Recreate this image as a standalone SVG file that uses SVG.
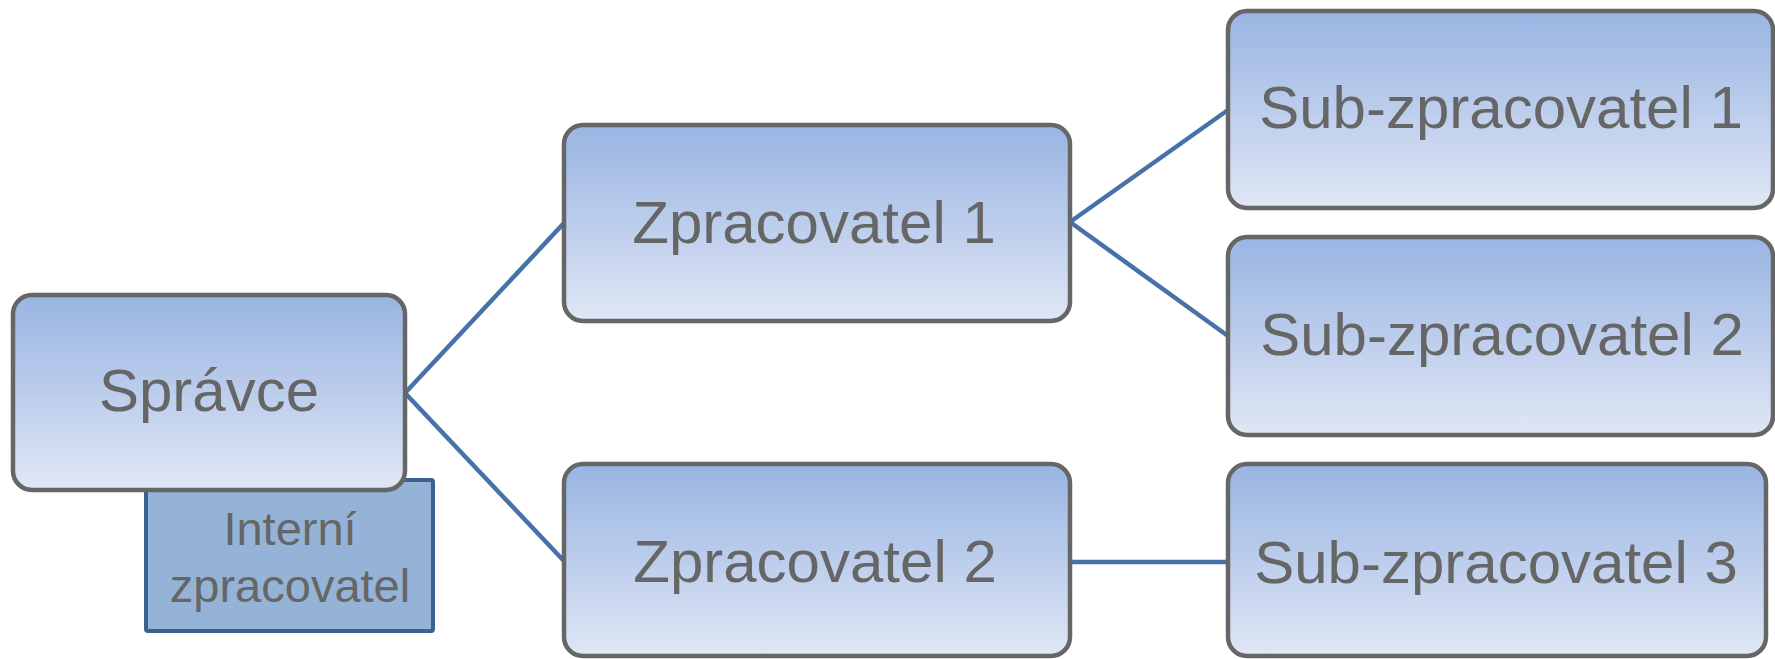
<svg xmlns="http://www.w3.org/2000/svg" width="1775" height="659" viewBox="0 0 1775 659">
  <defs>
    <linearGradient id="boxFill" x1="0" y1="0" x2="0" y2="1">
      <stop offset="0" stop-color="#99b5e2"/>
      <stop offset="0.5" stop-color="#bccdec"/>
      <stop offset="1" stop-color="#e0e7f5"/>
    </linearGradient>
  </defs>
  <style>
    .box { fill: url(#boxFill); stroke: #666666; stroke-width: 4.5; }
    .inner { fill: #95b3d7; stroke: #3b6190; stroke-width: 4; }
    .lbl { font-family: "Liberation Sans", Arial, sans-serif; font-size: 60px; fill: #666666; text-anchor: middle; }
    .lbl-sm { font-family: "Liberation Sans", Arial, sans-serif; font-size: 47px; fill: #666666; text-anchor: middle; }
    .link { stroke: #4672a8; stroke-width: 4.5; fill: none; }
  </style>
  <rect width="1775" height="659" fill="#ffffff"/>

  <!-- connectors -->
  <g id="connectors">
    <line class="link" x1="405" y1="393" x2="564" y2="223"/>
    <line class="link" x1="405" y1="393" x2="564" y2="561"/>
    <line class="link" x1="1070" y1="222" x2="1228" y2="110"/>
    <line class="link" x1="1070" y1="222" x2="1228" y2="336"/>
    <line class="link" x1="1070" y1="562" x2="1228" y2="562"/>
  </g>

  <!-- internal processor tab, tucked under the controller box -->
  <g id="interni">
    <rect class="inner" x="146" y="480" width="287" height="151" rx="2"/>
    <text class="lbl-sm" x="290" y="545">Interní</text>
    <text class="lbl-sm" x="290" y="602">zpracovatel</text>
  </g>

  <g id="spravce">
    <rect class="box" x="13" y="295" width="392" height="195" rx="19"/>
    <text class="lbl" x="209" y="411">Správce</text>
  </g>

  <g id="zpracovatel1">
    <rect class="box" x="564" y="125" width="506" height="196" rx="19"/>
    <text class="lbl" x="814" y="243">Zpracovatel 1</text>
  </g>

  <g id="zpracovatel2">
    <rect class="box" x="564" y="464" width="506" height="192" rx="19"/>
    <text class="lbl" x="815" y="582">Zpracovatel 2</text>
  </g>

  <g id="sub1">
    <rect class="box" x="1228" y="11" width="545" height="197" rx="19"/>
    <text class="lbl" x="1501" y="128">Sub-zpracovatel 1</text>
  </g>

  <g id="sub2">
    <rect class="box" x="1228" y="237" width="545" height="198" rx="19"/>
    <text class="lbl" x="1502" y="355">Sub-zpracovatel 2</text>
  </g>

  <g id="sub3">
    <rect class="box" x="1228" y="464" width="538" height="192" rx="19"/>
    <text class="lbl" x="1496" y="583">Sub-zpracovatel 3</text>
  </g>
</svg>
